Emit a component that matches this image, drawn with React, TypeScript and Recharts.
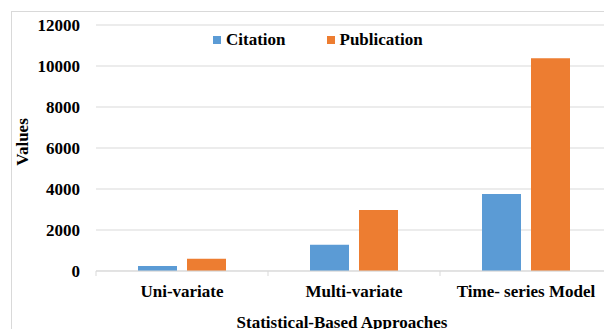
import { BarChart, Bar, XAxis, YAxis, CartesianGrid } from 'recharts'

const categories = ['Uni-variate', 'Multi-variate', 'Time- series Model']
const citation = [250, 1280, 3760]
const publication = [600, 2970, 10380]
const yTicks = [0, 2000, 4000, 6000, 8000, 10000, 12000]

const data = categories.map((name, i) => ({ name, citation: citation[i], publication: publication[i] }))

const BLUE = '#5B9BD5'
const ORANGE = '#ED7D31'
const GRID = '#d9d9d9'
const FONT = 'Liberation Serif'

// category axis: Excel-style tick marks sit between categories, not under them
function CategoryTick(props: any) {
  const { x, y, payload, index, width } = props
  const step = width / categories.length
  const left = x - step / 2
  return (
    <g>
      <line x1={left} y1={y} x2={left} y2={y + 5} stroke={GRID} />
      {index === categories.length - 1 && (
        <line x1={left + step} y1={y} x2={left + step} y2={y + 5} stroke={GRID} />
      )}
      <text x={x} y={y + 26} textAnchor="middle" fontFamily={FONT} fontWeight="bold" fontSize={17} fill="#000">
        {payload.value}
      </text>
    </g>
  )
}

function ChartLegend() {
  const items = [
    { label: 'Citation', color: BLUE },
    { label: 'Publication', color: ORANGE },
  ]
  return (
    <div style={{ position: 'absolute', top: 30, left: 213, display: 'flex', gap: 41, fontFamily: FONT, fontWeight: 'bold', fontSize: 17, color: '#000', lineHeight: '20px' }}>
      {items.map((it) => (
        <div key={it.label} style={{ display: 'flex', alignItems: 'center' }}>
          <span style={{ width: 8, height: 8, background: it.color, marginRight: 5, display: 'inline-block' }} />
          <span>{it.label}</span>
        </div>
      ))}
    </div>
  )
}

export default function App() {
  return (
    <div style={{ position: 'absolute', left: 0, top: 0, width: 604, height: 329, overflow: 'hidden', background: '#fff' }}>
      <div style={{ position: 'absolute', left: 11, top: 11, width: 640, height: 360, border: `1px solid ${GRID}` }} />
      <div style={{ position: 'absolute', left: 0, top: 0 }}>
        <BarChart
          width={612}
          height={340}
          data={data}
          margin={{ top: 25, right: 0, left: 0, bottom: 24 }}
          barCategoryGap={42}
          barGap={10}
        >
          <CartesianGrid vertical={false} stroke={GRID} strokeWidth={1.2} />
          <XAxis
            dataKey="name"
            height={45}
            axisLine={{ stroke: GRID }}
            tickLine={false}
            tickSize={0}
            tickMargin={0}
            interval={0}
            tick={<CategoryTick />}
            label={(p: any) => {
              const vb = p.viewBox
              return (
                <text x={vb.x + vb.width / 2 - 12} y={328} textAnchor="middle" fontFamily={FONT} fontWeight="bold" fontSize={17} fill="#000">
                  Statistical-Based Approaches
                </text>
              )
            }}
          />
          <YAxis
            width={96}
            domain={[0, 12000]}
            ticks={yTicks}
            axisLine={false}
            tickLine={false}
            tickSize={0}
            tickMargin={16}
            tick={{ fontFamily: FONT, fontWeight: 'bold', fontSize: 17, fill: '#000' }}
            label={() => (
              <text x={28} y={142} transform="rotate(-90, 28, 142)" textAnchor="middle" fontFamily={FONT} fontWeight="bold" fontSize={17} fill="#000">
                Values
              </text>
            )}
          />
          <Bar dataKey="citation" name="Citation" fill={BLUE} isAnimationActive={false} />
          <Bar dataKey="publication" name="Publication" fill={ORANGE} isAnimationActive={false} />
        </BarChart>
      </div>
      <ChartLegend />
    </div>
  )
}
